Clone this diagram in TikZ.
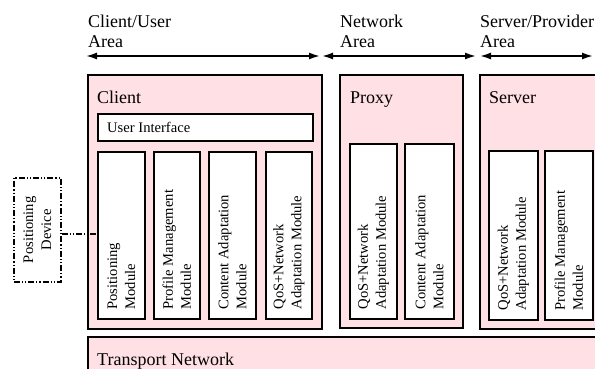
\documentclass[tikz,border=0pt]{standalone}
\usepackage{fontspec}
\setmainfont{Liberation Serif}
\usetikzlibrary{arrows.meta}
\definecolor{pinkfill}{RGB}{255,224,228}
\tikzset{
  big/.style={font=\fontsize{18}{20}\selectfont, inner sep=0pt},
  small/.style={font=\fontsize{14.6}{18}\selectfont, inner sep=0pt},
  area/.style={fill=pinkfill, draw=black, line width=1.7pt, inner sep=0pt, anchor=north west},
  modbox/.style={fill=white, draw=black, line width=1.7pt, inner sep=0pt, anchor=north west},
  modtext/.style={small, rotate=90, anchor=west, align=left},
  span/.style={line width=1.7pt, {Latex[length=11pt,width=7pt]}-{Latex[length=11pt,width=7pt]}},
  ddd/.style={line width=1.5pt, dash pattern=on 6pt off 2pt on 1.2pt off 2pt on 1.2pt off 2pt}
}
\begin{document}
\begin{tikzpicture}[x=1pt,y=-1pt]
\clip (0,0) rectangle (595,369);
\fill[white] (0,0) rectangle (595,369);

% area labels
\node[big, anchor=base west, align=left] (la1) at (88,48) {Client/User\\Area};
\node[big, anchor=base west, align=left] (la2) at (340,48) {Network\\Area};
\node[big, anchor=base west, align=left] (la3) at (480,48) {Server/Provider\\Area};

% span arrows
\coordinate (a1) at (86,56);
\coordinate (a2) at (320,56);
\coordinate (a3) at (322,56);
\coordinate (a4) at (476,56);
\coordinate (a5) at (480,56);
\coordinate (a6) at (593,56);
\draw[span] (a1) -- (a2);
\draw[span] (a3) -- (a4);
\draw[span] (a5) -- (a6);

% main boxes
\node[area, minimum width=234pt, minimum height=254pt] (client) at (87,74) {};
\node[area, minimum width=123pt, minimum height=253pt] (proxy) at (339,74) {};
\node[area, minimum width=140pt, minimum height=254pt] (server) at (479,74) {};
\node[area, minimum width=530pt, minimum height=60pt] (transport) at (87,336) {};

\node[big, anchor=base west] (tclient) at (97,103) {Client};
\node[big, anchor=base west] (tproxy) at (350,103) {Proxy};
\node[big, anchor=base west] (tserver) at (489,103) {Server};
\node[big, anchor=base west] (ttrans) at (97,365) {Transport Network};

% user interface
\node[modbox, minimum width=215pt, minimum height=27pt] (ui) at (97,113) {};
\node[small, anchor=base west] (tui) at (107,132) {User Interface};

% client modules
\node[modbox, minimum width=47pt, minimum height=167pt] (posm) at (97,151) {};
\node[modbox, minimum width=46pt, minimum height=167pt] (profm) at (153,151) {};
\node[modbox, minimum width=47pt, minimum height=167pt] (contm) at (208,151) {};
\node[modbox, minimum width=46pt, minimum height=167pt] (qosm) at (265,151) {};
\node[modtext] at ([yshift=10pt]posm.south) {Positioning\\Module};
\node[modtext] at ([yshift=10pt]profm.south) {Profile Management\\Module};
\node[modtext] at ([yshift=10pt]contm.south) {Content Adaptation\\Module};
\node[modtext] at ([yshift=10pt]qosm.south) {QoS+Network\\Adaptation Module};

% proxy modules
\node[modbox, minimum width=47pt, minimum height=175pt] (pqos) at (349,143) {};
\node[modbox, minimum width=49pt, minimum height=175pt] (pcont) at (404,143) {};
\node[modtext] at ([yshift=10pt]pqos.south) {QoS+Network\\Adaptation Module};
\node[modtext] at ([yshift=10pt]pcont.south) {Content Adaptation\\Module};

% server modules
\node[modbox, minimum width=49pt, minimum height=169pt] (sqos) at (488,150) {};
\node[modbox, minimum width=48pt, minimum height=169pt] (sprof) at (544,150) {};
\node[modtext] at ([yshift=10pt]sqos.south) {QoS+Network\\Adaptation Module};
\node[modtext] at ([yshift=10pt]sprof.south) {Profile Management\\Module};

% positioning device
\node[draw=black, ddd, fill=white, inner sep=0pt, minimum width=47pt, minimum height=104pt, anchor=north west] (dev) at (13,177) {};
\node[small, rotate=90, align=center] at (dev.center) {Positioning\\Device};
\draw[ddd] ([yshift=-4pt]dev.east) -- ([yshift=-4pt]dev.east -| posm.west);
\end{tikzpicture}
\end{document}
